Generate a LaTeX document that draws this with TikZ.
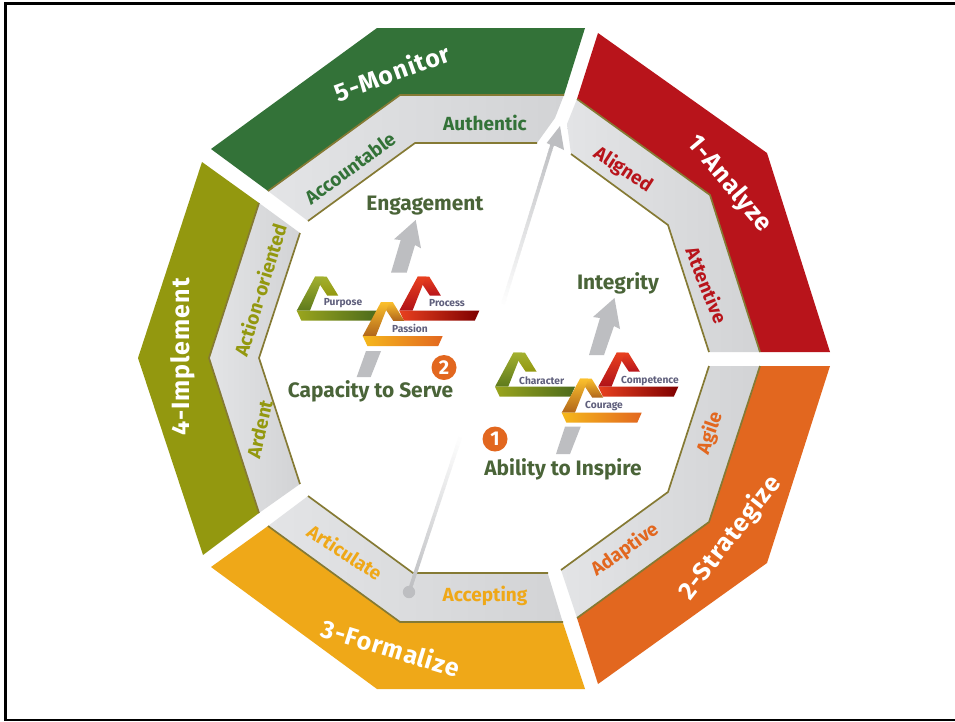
\documentclass[tikz,border=0pt]{standalone}
\usepackage{fontspec}
\setmainfont{Fira Sans}
\usetikzlibrary{calc}
\definecolor{cgreen}{HTML}{337238}
\definecolor{cred}{HTML}{B8141B}
\definecolor{corange}{HTML}{E2671F}
\definecolor{cyellow}{HTML}{EFA818}
\definecolor{colive}{HTML}{93980F}
\definecolor{edge}{HTML}{857A34}
\definecolor{bandL}{HTML}{E3E4E6}
\definecolor{bandR}{HTML}{D2D3D5}
\definecolor{arrowgray}{HTML}{BDBEC1}
\definecolor{head}{HTML}{4A6438}
\definecolor{small}{HTML}{5F5F7C}
\definecolor{E1}{HTML}{E8401F}
\definecolor{R1}{HTML}{7E0000}
\definecolor{R2}{HTML}{B01218}
\definecolor{Y1}{HTML}{F5B81C}
\definecolor{Y2}{HTML}{FBC02D}
\definecolor{Y3}{HTML}{B0651A}
\definecolor{G1}{HTML}{9AA51D}
\definecolor{G2}{HTML}{4D6B1C}
\definecolor{G3}{HTML}{5D7A1C}
\definecolor{G4}{HTML}{A3B02F}
\tikzset{
  x=1pt,y=-1pt,
  seg/.style={draw=none},
  band/.style={left color=bandL,right color=bandR,draw=none},
  rim/.style={draw=edge,line width=1.7pt,line join=miter},
  title/.style={text=white,font=\fontsize{25}{25}\bfseries\addfontfeature{LetterSpace=4},inner sep=0pt},
  trait/.style={font=\fontsize{19}{19}\bfseries,inner sep=0pt},
  headline/.style={text=head,font=\fontsize{20.9}{20.9}\bfseries,inner sep=0pt},
  tiny/.style={text=small,font=\fontsize{10.2}{10.2}\bfseries,inner sep=0pt},
  badge/.style={circle,fill=corange,text=white,minimum size=25pt,inner sep=0pt,font=\fontsize{20}{20}\bfseries},
  bigarrow/.style={fill=arrowgray,draw=none},
}
% #1 shift, #2 strip L, #3 strip R, #4 slant bottom, #5 slant top, #6 fold top, #7 fold bottom
\newcommand\ribbon[7]{%
  \begin{scope}[shift={#1}]
    \shade[top color=#6,bottom color=#7] (18.3,-34)--(30,-34)--(41.5,-15.2)--(30.5,-15.2)--(23,-26.5)--cycle;
    \shade[top color=#5,bottom color=#4] (0,0)--(18.3,-34)--(27,-34)--(23.5,-26)--(13.2,0)--cycle;
    \shade[left color=#2,right color=#3] (0,0)--(80,0)--(75.5,10)--(4.7,10)--cycle;
  \end{scope}}
\begin{document}
\begin{tikzpicture}
\useasboundingbox (0,0) rectangle (955,721);
\fill[white] (0,0) rectangle (955,721);
% frame
\draw[black,line width=2.6pt] (955,3.3)--(5.3,3.3)--(5.3,719.8)--(955,719.8);

% outer segments
\fill[cgreen,seg] (211,149)--(377,28)--(585,28)--(564,95)--(400,95)--(268,191)--cycle;
\fill[cred,seg] (598,33)--(767,153)--(830,352)--(760,352)--(710,195)--(577,99)--cycle;
\fill[corange,seg] (830,366)--(767,563)--(598,684)--(577,618)--(709,522)--(760,366)--cycle;
\fill[cyellow,seg] (211,567)--(377,689)--(585,689)--(563,623)--(400,622)--(268,526)--cycle;
\fill[colive,seg] (202,162)--(138,358)--(203,555)--(259,513)--(209,358)--(259,203)--cycle;

% grey bands
\shade[band] (268,191)--(400,95)--(564,95)--(555,118)--(537,143)--(415,143)--(308,221)--cycle;
\shade[band] (577,99)--(710,195)--(760,352)--(709,352)--(668,225)--(571,154)--(567,124)--cycle;
\shade[band] (760,366)--(709,522)--(577,618)--(561,570)--(668,492)--(709,366)--cycle;
\shade[band] (268,526)--(400,622)--(563,623)--(548,574)--(413,573)--(308,496)--cycle;
\shade[band] (259,203)--(209,358)--(259,513)--(300,484)--(259,358)--(300,233)--cycle;

% rims
\draw[rim] (268,191)--(400,95)--(564,95);
\draw[rim] (308,221)--(415,143)--(537,143);
\draw[rim] (577,99)--(710,195)--(760,352);
\draw[rim] (571,154)--(668,225)--(709,352);
\draw[rim] (760,366)--(709,522)--(577,618);
\draw[rim] (709,366)--(668,492)--(561,570);
\draw[rim] (268,526)--(400,622)--(563,622);
\draw[rim] (308,496)--(413,573)--(548,573);
\draw[rim] (259,203)--(209,358)--(259,513);
\draw[rim] (300,233)--(259,358)--(300,484);

% long arrow
\coordinate (dot) at (409,592);
\coordinate (lowfade) at (460,438);
\coordinate (upfade) at (501.7,308);
\coordinate (tipneck) at (553,142);
\foreach \i in {0,...,39}{
  \pgfmathsetmacro\p{100-2.5*\i}
  \draw[arrowgray!\p!white,line width=3.6pt] ($(dot)!\i/40!(lowfade)$)--($(dot)!{(\i+1.15)/40}!(lowfade)$);
  \pgfmathsetmacro\q{2.5*\i}
  \draw[arrowgray!\q!white,line width=3.6pt] ($(upfade)!\i/40!(tipneck)$)--($(upfade)!{(\i+1.15)/40}!(tipneck)$);
}
\fill[arrowgray] (dot) circle (6.2);
\fill[bigarrow] (560,126)--(564,150)--(555.5,146)--(551,145)--(546.7,143)--cycle;

% Engagement / Integrity arrows
\fill[bigarrow] (391,272.7)--(406.7,272.7)--(415,245)--(421,248.3)--(415.7,220)--(394,239.3)--(400.7,240)--cycle;
\fill[bigarrow] (366,351)--(381,351)--(370.7,377)--(356.7,377)--cycle;
\fill[bigarrow] (589,355)--(604,355)--(614,326)--(620,329)--(614.5,298)--(593,317)--(600,318)--cycle;
\fill[bigarrow] (565,426.7)--(580.7,426.7)--(570,454)--(556,454)--cycle;

% ribbons
\ribbon{(296.7,310.7)}{G1}{G2}{G3}{G4}{G4}{colive}
\ribbon{(399.3,310.7)}{E1}{R1}{R2}{E1}{E1}{cred}
\ribbon{(362.7,336)}{Y1}{corange}{Y3}{Y2}{Y2}{Y3}
\ribbon{(495,386.7)}{G1}{G2}{G3}{G4}{G4}{colive}
\ribbon{(598.3,386.7)}{E1}{R1}{R2}{E1}{E1}{cred}
\ribbon{(561.7,412.7)}{Y1}{corange}{Y3}{Y2}{Y2}{Y3}

% segment titles
\node[title,rotate=20] (t5) at (392,72) {5-Monitor};
\node[title,rotate=-50] (t1) at (729,184) {1-Analyze};
\node[title,rotate=52] (t2) at (730,538) {2-Strategize};
\node[title,rotate=-17] (t3) at (391,647.5) {3-Formalize};
\node[title,rotate=90] (t4) at (183,357) {4-Implement};

% traits
\node[trait,text=cgreen,rotate=0] (a1) at (485,123) {Authentic};
\node[trait,text=cgreen,rotate=36] (a2) at (350,168) {Accountable};
\node[trait,text=cred,rotate=-33] (b1) at (623,170) {Aligned};
\node[trait,text=cred,rotate=-68] (b2) at (707,285) {Attentive};
\node[trait,text=corange,rotate=71] (c1) at (710,433) {Agile};
\node[trait,text=corange,rotate=35] (c2) at (625,550) {Adaptive};
\node[trait,text=cyellow,rotate=0] (d1) at (485,596) {Accepting};
\node[trait,text=cyellow,rotate=-33] (d2) at (345,552) {Articulate};
\node[trait,text=colive,rotate=73] (e1) at (260,290) {Action-oriented};
\node[trait,text=colive,rotate=77] (e2) at (259.5,429) {Ardent};

% headlines
\node[headline] (n1) at (425,206) {Engagement};
\node[headline] (n2) at (618,283) {Integrity};
\node[headline] (n3) at (370.5,391) {Capacity to Serve};
\node[headline] (n4) at (563,469) {Ability to Inspire};

% badges
\node[badge] (b2nd) at (444,367.5) {2};
\node[badge] (b1st) at (495,439) {1};

% ribbon labels
\node[tiny] (r1) at (343,303) {Purpose};
\node[tiny] (r2) at (447,303) {Process};
\node[tiny] (r3) at (410,328) {Passion};
\node[tiny] (r4) at (541.7,380.7) {Character};
\node[tiny] (r5) at (650,380.7) {Competence};
\node[tiny] (r6) at (604,405.7) {Courage};
\end{tikzpicture}
\end{document}
